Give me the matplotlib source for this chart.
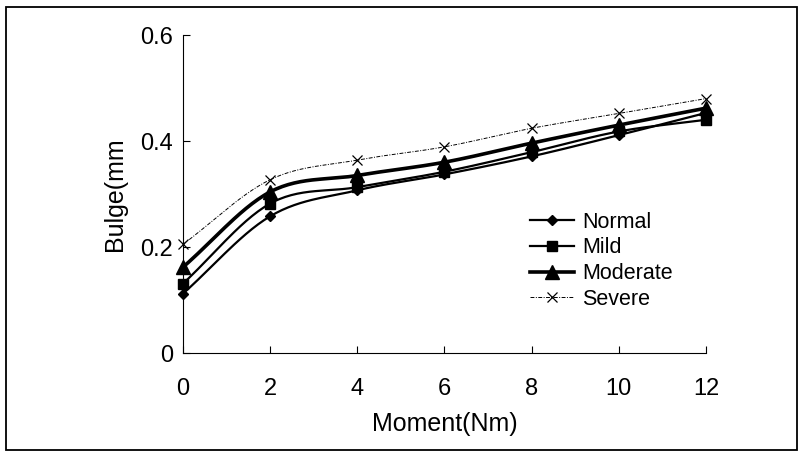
import numpy as np
import matplotlib
matplotlib.use("Agg")
import matplotlib.pyplot as plt
from matplotlib.lines import Line2D
from matplotlib.patches import Rectangle

plt.rcParams["font.family"] = ["Liberation Sans", "DejaVu Sans"]

moment = [0, 2, 4, 6, 8, 10, 12]
normal = [0.112, 0.258, 0.307, 0.337, 0.371, 0.411, 0.453]
mild = [0.131, 0.282, 0.313, 0.342, 0.379, 0.418, 0.440]
moderate = [0.162, 0.304, 0.335, 0.360, 0.396, 0.430, 0.462]
severe = [0.205, 0.327, 0.364, 0.389, 0.424, 0.452, 0.480]


def smooth(x, y, n=30):
    # Catmull-Rom style smoothing like the spreadsheet "smoothed line"
    x = np.asarray(x, float); y = np.asarray(y, float)
    px = np.concatenate([[2 * x[0] - x[1]], x, [2 * x[-1] - x[-2]]])
    py = np.concatenate([[2 * y[0] - y[1]], y, [2 * y[-1] - y[-2]]])
    xs, ys = [], []
    t = np.linspace(0, 1, n)
    for i in range(1, len(px) - 2):
        p0, p1, p2, p3 = (np.array([px[j], py[j]]) for j in range(i - 1, i + 3))
        pts = 0.5 * ((2 * p1)[:, None] + (-p0 + p2)[:, None] * t
                     + (2 * p0 - 5 * p1 + 4 * p2 - p3)[:, None] * t ** 2
                     + (-p0 + 3 * p1 - 3 * p2 + p3)[:, None] * t ** 3)
        xs.extend(pts[0]); ys.extend(pts[1])
    return xs, ys


fig = plt.figure(figsize=(8.02, 4.57), dpi=100)
fig.patches.append(Rectangle((6 / 802, 7 / 457), 791 / 802, 443 / 457, transform=fig.transFigure,
                             fill=False, lw=1.3, ec="black"))
ax = fig.add_axes([183 / 802, 1 - 353 / 457, (706 - 183) / 802, (353 - 35) / 457])

styles = [
    ("Normal", normal, dict(lw=1.6, ls="-"), dict(marker="D", ms=5.5)),
    ("Mild", mild, dict(lw=1.6, ls="-"), dict(marker="s", ms=6.5)),
    ("Moderate", moderate, dict(lw=2.6, ls="-"), dict(marker="^", ms=10)),
    ("Severe", severe, dict(lw=0.7, ls=(0, (4, 1.5, 1, 1.5))), dict(marker="x", ms=7, mew=0.9)),
]
handles = []
for name, vals, lst, mst in styles:
    sx, sy = smooth(moment, vals)
    ax.plot(sx, sy, color="black", **lst)
    ax.plot(moment, vals, ls="none", color="black", clip_on=False, **mst)
    handles.append(Line2D([], [], color="black", label=name, **lst, **mst))

ax.set_xlim(0, 12)
ax.set_ylim(0, 0.6)
ax.set_xticks(moment)
ax.set_yticks([0, 0.2, 0.4, 0.6])
ax.set_yticklabels(["0", "0.2", "0.4", "0.6"])
ax.spines["top"].set_visible(False)
ax.spines["right"].set_visible(False)
ax.tick_params(direction="in", length=5, labelsize=17)
ax.tick_params(axis="x", pad=18)
ax.tick_params(axis="y", pad=7)
ax.set_xlabel("Moment(Nm)", fontsize=18, labelpad=9)
ax.set_ylabel("Bulge(mm", fontsize=18, labelpad=10)

ax.legend(handles=handles, loc="center left", bbox_to_anchor=(0.663, 0.29), frameon=False,
          fontsize=15.5, handlelength=2.05, handletextpad=0.37, labelspacing=0.22,
          borderaxespad=0, borderpad=0)

fig.savefig("out.png", dpi=100)
